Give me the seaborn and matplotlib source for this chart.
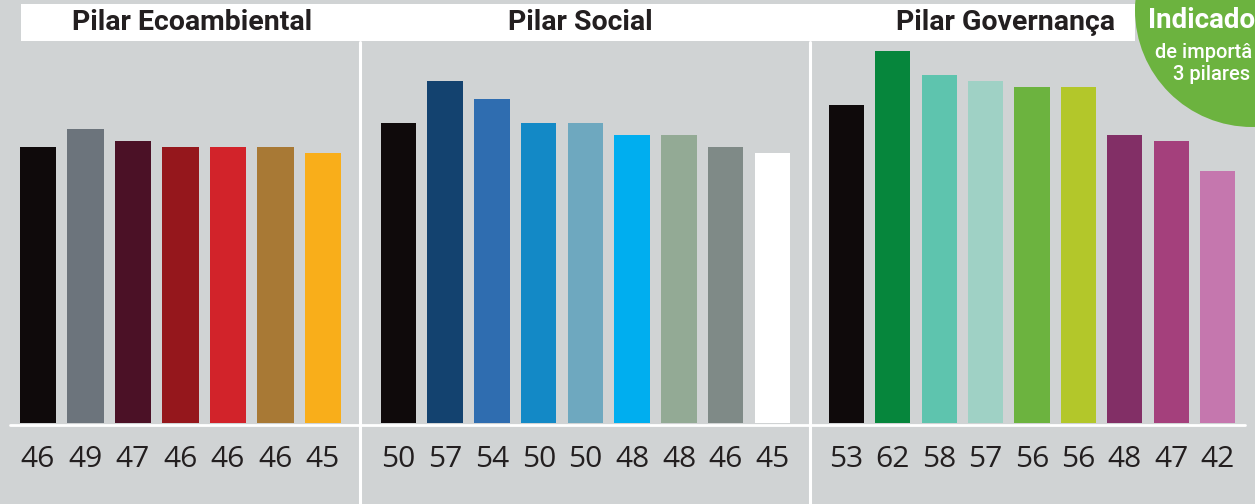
import matplotlib
matplotlib.use("Agg")
import matplotlib.pyplot as plt
from matplotlib.patches import Rectangle, Ellipse
from matplotlib.lines import Line2D
import seaborn as sns
import pandas as pd

# Scores per pillar (one bar per indicator)
eco_values = [46, 49, 47, 46, 46, 46, 45]
social_values = [50, 57, 54, 50, 50, 48, 48, 46, 45]
gov_values = [53, 62, 58, 57, 56, 56, 48, 47, 42]

eco_colors = ["#0f0a0b", "#6c747c", "#4b1126", "#95171c", "#d2232a", "#a87935", "#f9ae1a"]
social_colors = ["#0f0a0b", "#13426f", "#2f6db0", "#1389c6", "#6ea8bf", "#00aeef",
                 "#93aa95", "#7f8a87", "#ffffff"]
gov_colors = ["#0f0a0b", "#06863c", "#5ec4ae", "#9fd1c5", "#6cb33f", "#b3c72a",
              "#822f66", "#a4407c", "#c577ae"]

titles = ["Pilar Ecoambiental", "Pilar Social", "Pilar Governança"]
badge_lines = ["Indicado", "de importâ", "3 pilares"]

BG = "#d0d3d4"
TEXT = "#231f20"
W, H = 1255, 504

sns.set_theme(style="white")
plt.rcParams["font.family"] = ["Open Sans", "DejaVu Sans"]

fig = plt.figure(figsize=(W / 100, H / 100), dpi=100)
fig.patch.set_facecolor(BG)


def fx(px):
    return px / W


def fy(py):
    return 1 - py / H


# Title band
fig.add_artist(Rectangle((fx(21), fy(41)), fx(1135 - 21), (41 - 4) / H,
                         transform=fig.transFigure, facecolor="white",
                         edgecolor="none", zorder=1))

# Panel separators and baseline rule
for xs in (360, 810):
    fig.add_artist(Line2D([fx(xs), fx(xs)], [fy(42), fy(504)], color="white",
                          lw=2.2, transform=fig.transFigure, zorder=1))
fig.add_artist(Line2D([fx(10), fx(1245)], [fy(425), fy(425)], color="white",
                      lw=2.0, transform=fig.transFigure, zorder=1))

base_px, top_px = 423, 42
panels = [
    (eco_values, eco_colors, 14.25, 332.5),
    (social_values, social_colors, 375.1, 420.75),
    (gov_values, gov_colors, 823.3, 417.4),
]

for values, colors, left, width in panels:
    ax = fig.add_axes([fx(left), (H - base_px) / H, fx(width), (base_px - top_px) / H])
    df = pd.DataFrame({"idx": [str(i) for i in range(len(values))], "valor": values})
    sns.barplot(data=df, x="idx", y="valor", hue="idx", palette=colors,
                legend=False, width=0.76, saturation=1, linewidth=0, ax=ax)
    ax.set_xlim(-0.5, len(values) - 0.5)
    ax.set_ylim(0, (base_px - top_px) / 6)
    ax.set_facecolor("none")
    ax.patch.set_alpha(0)
    for s in ax.spines.values():
        s.set_visible(False)
    ax.set_xticks([])
    ax.set_yticks([])
    ax.set_xlabel("")
    ax.set_ylabel("")
    for i, v in enumerate(values):
        ax.text(i, -(467 - base_px) / (base_px - top_px), str(v),
                transform=ax.get_xaxis_transform(), ha="center", va="baseline",
                fontsize=21.5, color=TEXT, clip_on=False)

# Pillar titles
for label, cx in zip(titles, (192, 580, 1005)):
    fig.text(fx(cx), fy(23), label, ha="center", va="center", fontsize=20.5,
             fontweight="bold", color=TEXT, family=["Roboto", "DejaVu Sans"], zorder=3)

# Badge
r = 117
fig.add_artist(Ellipse((fx(1252), fy(10)), 2 * r / W, 2 * r / H,
                       transform=fig.transFigure, facecolor="#6cb33f",
                       edgecolor="none", zorder=4))
fig.text(fx(1148), fy(28), badge_lines[0], ha="left", va="baseline", fontsize=20,
         fontweight="bold", color="white", family=["Roboto", "DejaVu Sans"], zorder=5)
fig.text(fx(1155), fy(58), badge_lines[1], ha="left", va="baseline", fontsize=14.5,
         fontweight="medium", color="white", family=["Roboto", "DejaVu Sans"], zorder=5)
fig.text(fx(1173), fy(80), badge_lines[2], ha="left", va="baseline", fontsize=14.5,
         fontweight="medium", color="white", family=["Roboto", "DejaVu Sans"], zorder=5)

fig.savefig("out.png", dpi=100, facecolor=BG)
